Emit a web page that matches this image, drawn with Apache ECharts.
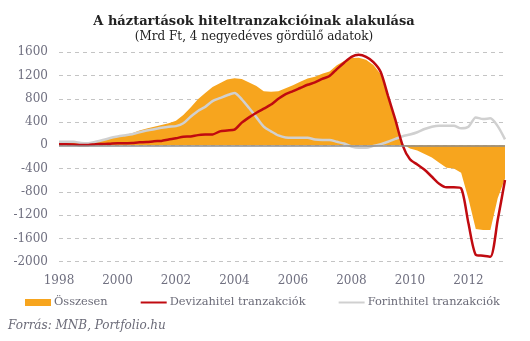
<!DOCTYPE html>
<html>
<head>
<meta charset="utf-8">
<script src="https://cdn.jsdelivr.net/npm/echarts@6/dist/echarts.min.js"></script>
<style>
html,body{margin:0;padding:0;background:#fff;}
#c{width:530px;height:341px;}
</style>
</head>
<body>
<div id="c"></div>
<script>
var quarters = [
'1998Q1','1998Q2','1998Q3','1998Q4','1999Q1','1999Q2','1999Q3','1999Q4',
'2000Q1','2000Q2','2000Q3','2000Q4','2001Q1','2001Q2','2001Q3','2001Q4',
'2002Q1','2002Q2','2002Q3','2002Q4','2003Q1','2003Q2','2003Q3','2003Q4',
'2004Q1','2004Q2','2004Q3','2004Q4','2005Q1','2005Q2','2005Q3','2005Q4',
'2006Q1','2006Q2','2006Q3','2006Q4','2007Q1','2007Q2','2007Q3','2007Q4',
'2008Q1','2008Q2','2008Q3','2008Q4','2009Q1','2009Q2','2009Q3','2009Q4',
'2010Q1','2010Q2','2010Q3','2010Q4','2011Q1','2011Q2','2011Q3','2011Q4',
'2012Q1','2012Q2','2012Q3','2012Q4','2013Q1','2013Q2'];

var osszesen = [
60,60,55,40,40,55,90,115,
150,180,206,255,290,320,350,380,
420,520,650,790,900,1000,1066,1130,
1152,1140,1080,1020,930,922,930,980,
1030,1094,1150,1180,1230,1270,1375,1450,
1500,1506,1470,1380,1220,865,420,20,
-55,-90,-150,-210,-300,-385,-400,-470,
-920,-1440,-1456,-1456,-910,-570];

var devizahitel = [
17,17,15,5,5,20,22,28,
34,34,40,52,55,70,76,100,
120,148,152,175,184,186,240,255,
270,390,480,560,630,700,800,880,
930,985,1040,1080,1140,1190,1310,1420,
1520,1555,1520,1430,1260,850,440,0,
-240,-330,-420,-540,-660,-722,-722,-740,
-1341,-1880,-1898,-1915,-1285,-597];

var forinthitel = [
62,62,60,40,35,60,90,125,
150,170,189,225,255,275,300,320,
330,378,490,590,660,760,810,860,
900,790,640,480,320,240,170,135,
131,131,131,100,92,92,60,30,
-20,-41,-41,-10,20,62,110,155,
185,225,280,320,337,337,337,292,
320,480,450,464,330,103];

var yTicks = {min: -2000, max: 1600, step: 400};

var FONT = 'DejaVu Serif';
var chart = echarts.init(document.getElementById('c'), null, {renderer: 'canvas'});
chart.setOption({
  animation: false,
  backgroundColor: '#ffffff',
  title: [{
    text: 'A háztartások hiteltranzakcióinak alakulása',
    left: 249, top: 10, textAlign: 'center',
    textStyle: {fontFamily: FONT, fontWeight: 'bold', fontSize: 13, color: '#222'}
  }, {
    text: '(Mrd Ft, 4 negyedéves gördülő adatok)',
    left: 249, top: 26, textAlign: 'center',
    textStyle: {fontFamily: FONT, fontWeight: 'normal', fontSize: 12, color: '#222'}
  }, {
    text: 'Forrás: MNB, Portfolio.hu',
    left: 3, top: 315,
    textStyle: {fontFamily: FONT, fontStyle: 'italic', fontWeight: 'normal', fontSize: 12, color: '#6b6b78'}
  }],
  legend: {
    left: 25, top: 297, padding: 0,
    itemWidth: 26, itemHeight: 7, itemGap: 32,
    data: [
      {name: 'Összesen', icon: 'rect'},
      {name: 'Devizahitel tranzakciók', itemStyle: {opacity: 0}},
      {name: 'Forinthitel tranzakciók', itemStyle: {opacity: 0}}
    ],
    textStyle: {fontFamily: FONT, fontSize: 11.4, color: '#6b6b78', padding: [0,0,0,-2]}
  },
  grid: {left: 59, right: 25, top: 52.2, bottom: 79.3},
  xAxis: {
    type: 'category', data: quarters, boundaryGap: false,
    axisLine: {show: false}, axisTick: {show: false}, splitLine: {show: false},
    axisLabel: {interval: 7, margin: 13, fontFamily: FONT, fontSize: 12, color: '#707080',
      formatter: function (v) { return v.slice(0, 4); }}
  },
  yAxis: {
    type: 'value', min: yTicks.min, max: yTicks.max, interval: yTicks.step,
    axisLine: {show: false}, axisTick: {show: false},
    axisLabel: {margin: 11, fontFamily: FONT, fontSize: 12, color: '#707080',
      formatter: function (v) { return String(v); }},
    splitLine: {lineStyle: {type: [4, 4], color: '#c4c4c4', width: 1}}
  },
  series: [{
    name: 'Összesen', type: 'line', data: osszesen, symbol: 'none',
    itemStyle: {color: '#F7A51E'},
    lineStyle: {width: 0},
    areaStyle: {color: '#F7A51E', opacity: 1},
    markLine: {silent: true, symbol: 'none', label: {show: false},
      lineStyle: {color: '#8c8c8c', type: 'solid', width: 1.5},
      data: [{yAxis: 0}]},
    z: 1
  }, {
    name: 'Forinthitel tranzakciók', type: 'line', data: forinthitel, symbol: 'none',
    smooth: 0.25,
    itemStyle: {color: '#D0D0D0'},
    lineStyle: {color: '#D0D0D0', width: 2.5},
    z: 3
  }, {
    name: 'Devizahitel tranzakciók', type: 'line', data: devizahitel, symbol: 'none',
    smooth: 0.25,
    itemStyle: {color: '#C00A10'},
    lineStyle: {color: '#C00A10', width: 2.5},
    z: 4
  }]
});
</script>
</body>
</html>
